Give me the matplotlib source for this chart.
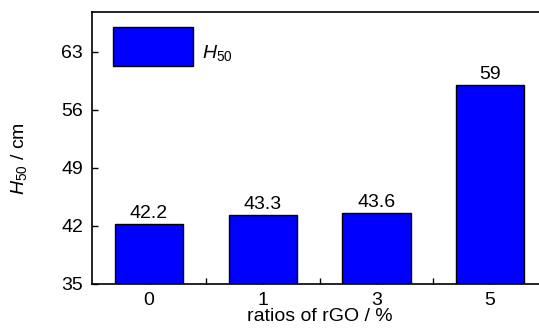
import matplotlib
matplotlib.use("Agg")
import matplotlib.pyplot as plt
from matplotlib.legend_handler import HandlerPatch
from matplotlib.patches import Rectangle

fam = "Liberation Sans"
plt.rcParams['font.family'] = [fam, 'DejaVu Sans']
plt.rcParams['mathtext.fontset'] = 'custom'
plt.rcParams['mathtext.rm'] = fam
plt.rcParams['mathtext.it'] = fam + ':italic'

categories = ["0", "1", "3", "5"]
values = [42.2, 43.3, 43.6, 59]
value_labels = ["42.2", "43.3", "43.6", "59"]
yticks = [35, 42, 49, 56, 63]
legend_label = '$H_{50}$'

fs = 14
fpx = fs * 100 / 72.0
DY = 6 * 72 / 100.0  # shift of legend patch (points)


class ShiftedPatchHandler(HandlerPatch):
    def create_artists(self, legend, orig_handle, xdescent, ydescent,
                       width, height, fontsize, trans):
        p = Rectangle(xy=(-xdescent, -ydescent + DY), width=width, height=height)
        self.update_prop(p, orig_handle, legend)
        p.set_transform(trans)
        return [p]


fig = plt.figure(figsize=(5.39, 3.33), dpi=100)
ax = fig.add_axes([92/539, 1-284/333, (547-92)/539, (284-12)/333])

x = list(range(len(categories)))
bars = ax.bar(x, values, width=0.6, color='#0000FF', edgecolor='black', linewidth=1.0,
              zorder=2)
for xi, v, lab in zip(x, values, value_labels):
    ax.annotate(lab, (xi, v), xytext=(0, 1.5), textcoords='offset points',
                ha='center', va='bottom', fontsize=fs)

ax.set_xlim(-0.5, 3.5)
ax.set_ylim(35, 67.8)
ax.set_yticks(yticks)
ax.set_xticks(x)
ax.set_xticklabels(categories)
ax.set_xticks([0.5, 1.5, 2.5], minor=True)
ax.tick_params(axis='both', which='both', direction='in', length=4, width=1, labelsize=fs)
ax.tick_params(axis='x', which='major', pad=5.5)
ax.tick_params(axis='y', pad=6.5)
for s in ax.spines.values():
    s.set_linewidth(1.2)

ax.set_xlabel('ratios of rGO / %', fontsize=fs)
ax.xaxis.set_label_coords(0.5, (284-308)/272)
ax.set_ylabel('$H_{50}$ / cm', fontsize=fs)
ax.yaxis.set_label_coords((29-92)/455, (284-159)/272)

ax.legend(handles=[bars.patches[0]], labels=[legend_label], loc='upper left',
          bbox_to_anchor=(21/455, 1-21/272), frameon=False,
          borderpad=0, borderaxespad=0, handlelength=80/fpx, handleheight=2.71,
          handletextpad=9/fpx, fontsize=fs,
          handler_map={Rectangle: ShiftedPatchHandler()})

fig.savefig('out.png', dpi=100)
